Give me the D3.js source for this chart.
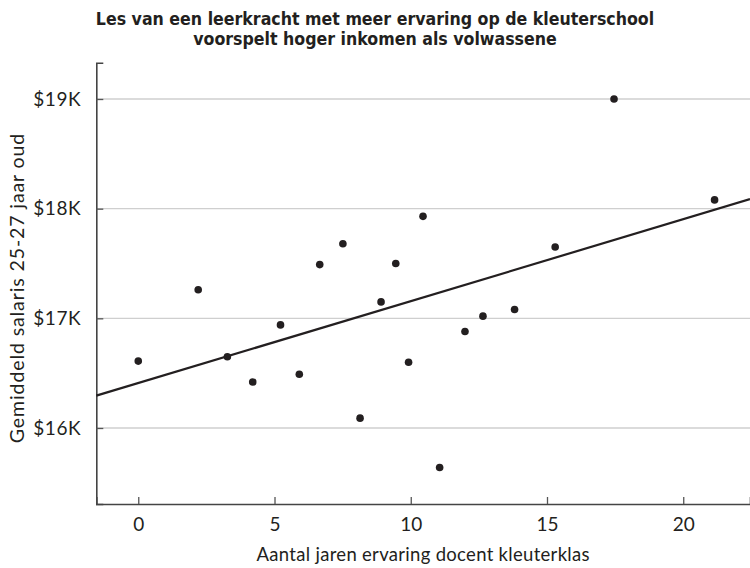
<!DOCTYPE html>
<html lang="nl">
<head>
<meta charset="UTF-8">
<title>Ervaring leerkracht en inkomen</title>
<script src="https://d3js.org/d3.v7.min.js"></script>
<style>
  body { margin: 0; background: #fff; }
  text { fill: #231f20; }
</style>
</head>
<body>
<svg id="chart" width="750" height="568"></svg>
<script>
// jaren ervaring docent (x) en salaris in $K (y)
const years  = [0, 2.2, 3.27, 4.2, 5.22, 5.91, 6.66, 7.51, 8.14, 8.91, 9.45, 9.92, 10.45, 11.06, 11.99, 12.65, 13.81, 15.3, 17.46, 21.15];
const salary = [16.61, 17.26, 16.65, 16.42, 16.94, 16.49, 17.49, 17.68, 16.09, 17.15, 17.5, 16.6, 17.93, 15.64, 16.88, 17.02, 17.08, 17.65, 19.0, 18.08];
const trendX = [-1.54, 22.45];
const trendY = [16.295, 18.087];
const xTicks = [0, 5, 10, 15, 20];
const yTicks = [16, 17, 18, 19];
const titleLines = [
  "Les van een leerkracht met meer ervaring op de kleuterschool",
  "voorspelt hoger inkomen als volwassene"
];

const svg = d3.select("#chart");
const margin = { top: 62.7, right: 0, bottom: 64, left: 96.3 };
const width = 750, height = 568;
const ink = "#231f20";
const font = "Lato, 'Open Sans', sans-serif";

const x = d3.scaleLinear().domain([-1.54, 22.45]).range([margin.left, width - margin.right]);
const y = d3.scaleLinear().domain([15.307, 19.331]).range([height - margin.bottom, margin.top]);

// gridlines
svg.append("g")
  .selectAll("line")
  .data(yTicks)
  .join("line")
  .attr("x1", margin.left)
  .attr("x2", width)
  .attr("y1", d => y(d))
  .attr("y2", d => y(d))
  .attr("stroke", "#cfcfcf")
  .attr("stroke-width", 1.3);

// y axis
const yAxis = svg.append("g")
  .attr("transform", `translate(${margin.left},0)`)
  .call(d3.axisLeft(y).tickValues(yTicks).tickFormat(d => "$" + d + "K").tickSize(-7).tickPadding(15));
yAxis.select(".domain").attr("stroke", "#444").attr("stroke-width", 1.6);
yAxis.selectAll(".tick line").attr("stroke", "#555").attr("stroke-width", 1.3);
yAxis.selectAll(".tick text")
  .attr("font-family", font)
  .attr("font-size", 19)
  .attr("letter-spacing", 0.6)
  .attr("fill", ink);

// x axis
const xAxis = svg.append("g")
  .attr("transform", `translate(0,${height - margin.bottom})`)
  .call(d3.axisBottom(x).tickValues(xTicks).tickSize(-7).tickPadding(14));
xAxis.select(".domain").attr("stroke", "#444").attr("stroke-width", 1.6);
xAxis.selectAll(".tick line").attr("stroke", "#555").attr("stroke-width", 1.3);
xAxis.selectAll(".tick text")
  .attr("font-family", font)
  .attr("font-size", 19)
  .attr("fill", ink);

// trendlijn
svg.append("line")
  .attr("x1", x(trendX[0])).attr("y1", y(trendY[0]))
  .attr("x2", x(trendX[1])).attr("y2", y(trendY[1]))
  .attr("stroke", ink)
  .attr("stroke-width", 2.2);

// punten
svg.append("g")
  .selectAll("circle")
  .data(years.map((d, i) => [d, salary[i]]))
  .join("circle")
  .attr("cx", d => x(d[0]))
  .attr("cy", d => y(d[1]))
  .attr("r", 3.8)
  .attr("fill", ink);

// titel
svg.append("text")
  .attr("x", 375)
  .attr("text-anchor", "middle")
  .attr("font-family", "'DejaVu Sans Condensed', 'DejaVu Sans', sans-serif")
  .attr("font-weight", "bold")
  .attr("font-size", 17.6)
  .selectAll("tspan")
  .data(titleLines)
  .join("tspan")
  .attr("x", 375)
  .attr("y", (d, i) => 25 + i * 20)
  .text(d => d);

// as-titels
svg.append("text")
  .attr("x", (margin.left + width) / 2)
  .attr("y", 561)
  .attr("text-anchor", "middle")
  .attr("font-family", font)
  .attr("font-size", 18.5)
  .attr("letter-spacing", 0.3)
  .text("Aantal jaren ervaring docent kleuterklas");

svg.append("text")
  .attr("transform", "translate(24,288) rotate(-90)")
  .attr("text-anchor", "middle")
  .attr("font-family", font)
  .attr("font-size", 19.5)
  .attr("letter-spacing", 0.9)
  .text("Gemiddeld salaris 25-27 jaar oud");
</script>
</body>
</html>
